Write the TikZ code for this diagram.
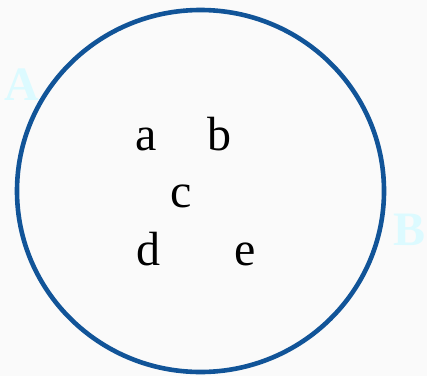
\documentclass[tikz,border=0pt]{standalone}
\usepackage{fontspec}
\setmainfont{Liberation Serif}
\usepackage{tikz}
\usetikzlibrary{shapes,positioning,calc}
\definecolor{ringblue}{RGB}{17,84,152}
\definecolor{labelcyan}{RGB}{220,250,255}
\definecolor{paper}{RGB}{250,250,250}

\begin{document}
\begin{tikzpicture}[x=1pt, y=1pt,
        element/.style={inner sep=0pt, anchor=base, font=\fontsize{48}{48}\selectfont},
        setname/.style={inner sep=0pt, text=labelcyan, font=\fontsize{48}{48}\selectfont\bfseries}]

        \useasboundingbox (0,0) rectangle (427,376);
        \fill[paper] (0,0) rectangle (427,376);

        \draw[ringblue, line width=4.6pt] (200.5,185) ellipse [x radius=183.5, y radius=181];

        \node[element] (a) at (146,226) {a};
        \node[element] (b) at (219,226) {b};
        \node[element] (c) at (181,169) {c};
        \node[element] (d) at (148,111) {d};
        \node[element] (e) at (245,111) {e};

        \node[setname, anchor=base west] (setA) at (4,276) {A};
        \node[setname, anchor=base east] (setB) at (426,131) {B};
    \end{tikzpicture}
\end{document}
